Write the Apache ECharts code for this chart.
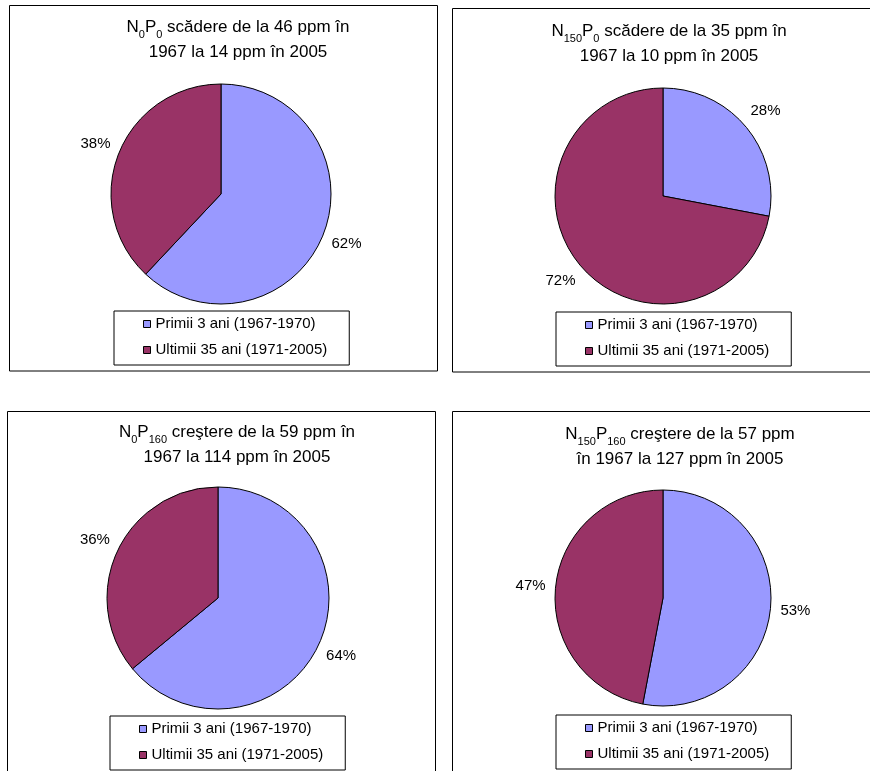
<!DOCTYPE html>
<html>
<head>
<meta charset="utf-8">
<script src="https://cdn.jsdelivr.net/npm/echarts@6/dist/echarts.min.js"></script>
<style>
  html, body { margin: 0; padding: 0; background: #fff; overflow: hidden; }
  #chart { width: 870px; height: 771px; }
</style>
</head>
<body>
<div id="chart"></div>
<script>
// Share of the change in soil phosphorus (ppm) for each fertilisation variant
const categories = ['Primii 3 ani (1967-1970)', 'Ultimii 35 ani (1971-2005)'];
const shareN0P0 = [62, 38];
const shareN150P0 = [28, 72];
const shareN0P160 = [64, 36];
const shareN150P160 = [53, 47];

// Titles as rich-text tokens: {t|...} normal text, {s|...} subscript
const titleTexts = [
  '{t|N}{s|0}{t|P}{s|0}{t| scădere de la 46 ppm în}\n{t|1967 la 14 ppm în 2005}',
  '{t|N}{s|150}{t|P}{s|0}{t| scădere de la 35 ppm în}\n{t|1967 la 10 ppm în 2005}',
  '{t|N}{s|0}{t|P}{s|160}{t| creştere de la 59 ppm în}\n{t|1967 la 114 ppm în 2005}',
  '{t|N}{s|150}{t|P}{s|160}{t| creştere de la 57 ppm}\n{t|în 1967 la 127 ppm în 2005}'
];

const FONT = '"Liberation Sans", Arial, sans-serif';
const sliceColors = ['#9999FF', '#993366'];

// Panel layout: frame, title anchor, pie centre/radius, legend corner
const panels = [
  { frame: [9.5, 5.5, 428, 365.5], title: [238, 40], center: [221, 194], r: 110, legend: [114, 311], values: shareN0P0 },
  { frame: [452.5, 8.5, 430, 363.5], title: [669, 44], center: [663, 196], r: 108, legend: [556, 312], values: shareN150P0 },
  { frame: [7.5, 411.5, 428, 400], title: [237, 445], center: [218, 598], r: 111, legend: [110, 716], values: shareN0P160 },
  { frame: [452.5, 411.5, 430, 400], title: [680, 447], center: [663, 598], r: 108, legend: [556, 715], values: shareN150P160 }
];

const graphics = [];
panels.forEach((p, i) => {
  graphics.push({
    type: 'rect',
    shape: { x: p.frame[0], y: p.frame[1], width: p.frame[2], height: p.frame[3] },
    style: { fill: 'none', stroke: '#000', lineWidth: 1 },
    silent: true
  });
  graphics.push({
    type: 'text',
    x: p.title[0],
    y: p.title[1],
    silent: true,
    style: {
      text: titleTexts[i],
      align: 'center',
      verticalAlign: 'middle',
      font: '17px ' + FONT,
      lineHeight: 25,
      fill: '#000',
      rich: {
        t: { fontSize: 17, fontFamily: FONT, lineHeight: 25, fill: '#000' },
        s: { fontSize: 11, fontFamily: FONT, lineHeight: 19, verticalAlign: 'bottom', fill: '#000' }
      }
    }
  });
});

const legends = panels.map(p => ({
  data: categories,
  orient: 'vertical',
  left: p.legend[0],
  top: p.legend[1],
  itemWidth: 7,
  itemHeight: 7,
  itemGap: 8,
  icon: 'rect',
  selectedMode: false,
  backgroundColor: '#fff',
  borderColor: '#000',
  borderWidth: 1,
  borderRadius: 0,
  padding: [4, 22, 6, 29],
  itemStyle: { borderColor: '#000', borderWidth: 1 },
  textStyle: { fontSize: 15, fontFamily: FONT, color: '#000', lineHeight: 18 }
}));

const series = panels.map(p => ({
  type: 'pie',
  center: p.center,
  radius: p.r,
  startAngle: 90,
  clockwise: true,
  avoidLabelOverlap: false,
  animation: false,
  silent: true,
  data: categories.map((name, k) => ({ name, value: p.values[k] })),
  itemStyle: { borderColor: '#000', borderWidth: 1 },
  label: {
    show: true,
    position: 'outside',
    formatter: '{c}%',
    fontSize: 15,
    fontFamily: FONT,
    color: '#000',
    distanceToLabelLine: 0
  },
  labelLine: { show: false, length: 25, length2: 0 },
  labelLayout: () => ({ align: 'center' })
}));

const chart = echarts.init(document.getElementById('chart'), null, { renderer: 'canvas' });
chart.setOption({
  animation: false,
  color: sliceColors,
  backgroundColor: '#fff',
  legend: legends,
  series: series,
  graphic: graphics
});
</script>
</body>
</html>
